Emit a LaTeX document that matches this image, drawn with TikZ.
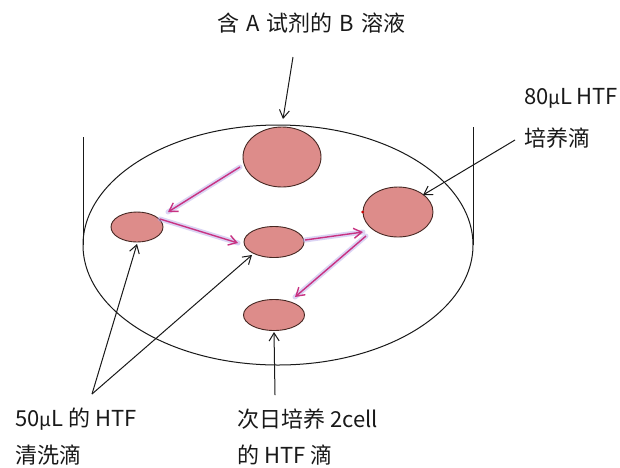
\documentclass[tikz,border=0pt]{standalone}
\usepackage{fontspec}
\setmainfont{Noto Sans CJK SC}
\usetikzlibrary{arrows.meta,shapes.geometric}
\definecolor{dropfill}{RGB}{221,140,138}
\definecolor{dropedge}{RGB}{70,40,35}
\definecolor{pinkarrow}{RGB}{200,50,130}
\definecolor{glow}{RGB}{185,170,235}
\definecolor{txt}{RGB}{25,25,25}
\newcommand{\wsp}{\hspace{7pt}}
\begin{document}
\begin{tikzpicture}[x=1pt,y=-1pt,
  drop/.style={ellipse,draw=dropedge,fill=dropfill,line width=0.9pt,inner sep=0pt},
  blk/.style={draw=black!90,line width=1pt,-{Straight Barb[length=8pt,width=10pt]}},
  glowline/.style={draw=glow,line width=5pt,opacity=0.5,line cap=round},
  pinkline/.style={draw=pinkarrow,line width=1.4pt,-{Straight Barb[length=8pt,width=10pt]}},
  lbl/.style={font=\fontsize{22}{24}\selectfont,text=txt,inner sep=0pt,anchor=west}]
\useasboundingbox (0,0) rectangle (620,467);
\fill[white] (0,0) rectangle (620,467);
% dish
\draw[black!90,line width=1pt] (278,245) ellipse [x radius=195, y radius=120];
\draw[black!90,line width=1pt] (83,137) -- (83,245);
\draw[black!90,line width=1pt] (473,127) -- (473,245);
% drops
\node[drop,minimum width=78pt,minimum height=60pt] (dA) at (282,157) {};
\node[drop,minimum width=52pt,minimum height=30pt] (dL) at (137,227) {};
\node[drop,minimum width=60pt,minimum height=31pt] (dM) at (274,242) {};
\node[drop,minimum width=70pt,minimum height=50pt] (dR) at (398,212) {};
\node[drop,minimum width=61pt,minimum height=31pt] (dB) at (274,315) {};
\fill[red!80!black] (dR.west) circle (1.5pt);
% pink arrow coordinates
\coordinate (p1s) at (240,167); \coordinate (p1e) at (168,212);
\coordinate (p2s) at (160,219); \coordinate (p2e) at (238,243);
\coordinate (p3s) at (305,240); \coordinate (p3e) at (363,232);
\coordinate (p4s) at (366,236); \coordinate (p4e) at (295,297);
\foreach \s/\e in {p1s/p1e,p2s/p2e,p3s/p3e,p4s/p4e}{
  \draw[glowline] (\s) -- (\e);
  \draw[pinkline] (\s) -- (\e);
}
% labels
\node[lbl] (tTop) at (217,23) {含\wsp A\wsp 试剂的\wsp B\wsp 溶液};
\node[lbl] (tR1) at (524,98) {80{\fontsize{19}{24}\selectfont μ}L\hspace{4pt}HTF};
\node[lbl] (tR2) at (524,138) {培养滴};
\node[lbl] (tL1) at (15,419) {50{\fontsize{19}{24}\selectfont μ}L 的 HTF};
\node[lbl] (tL2) at (15,455) {清洗滴};
\node[lbl] (tB1) at (237,419) {次日培养 2cell};
\node[lbl] (tB2) at (237,455) {的 HTF 滴};
% black arrows
\coordinate (aTop) at (293,57); \coordinate (aTopE) at (283,119);
\coordinate (aR) at (515,140); \coordinate (aRE) at (423,195);
\coordinate (aL) at (92,394); \coordinate (aLE1) at (137,244); \coordinate (aLE2) at (252,255);
\coordinate (aB) at (275,395); \coordinate (aBE) at (274,332);
\draw[blk] (aTop) -- (aTopE);
\draw[blk] (aR) -- (aRE);
\draw[blk] (aL) -- (aLE1);
\draw[blk] (aL) -- (aLE2);
\draw[blk] (aB) -- (aBE);
\end{tikzpicture}
\end{document}
